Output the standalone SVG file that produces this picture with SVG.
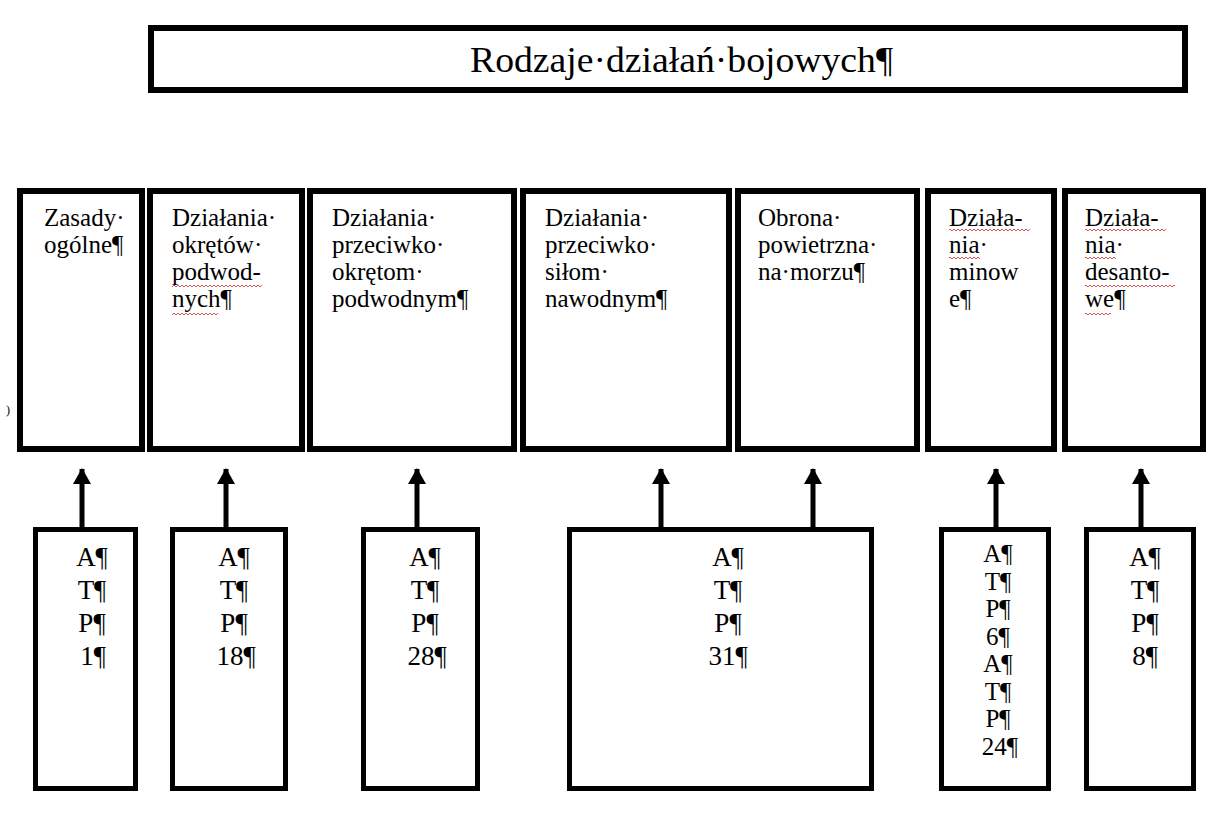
<svg xmlns="http://www.w3.org/2000/svg" width="1208" height="814" viewBox="0 0 1208 814">
<style>
.box{fill:#fff;stroke:#000;stroke-width:6}
.bbox{fill:#fff;stroke:#000;stroke-width:5}
.t{font-family:"Liberation Serif","Times New Roman",serif;font-size:25px;fill:#000}
.b{font-family:"Liberation Serif","Times New Roman",serif;font-size:27px;fill:#000;text-anchor:middle}
.e{font-size:25px}
.title{font-family:"Liberation Serif","Times New Roman",serif;font-size:35px;fill:#000}
.arr{stroke:#000;stroke-width:5;fill:none}
.sq{fill:url(#squig)}
</style>
<defs>
<pattern id="squig" patternUnits="userSpaceOnUse" x="0" y="0" width="4" height="4">
<polyline points="0,3 2,1 4,3" fill="none" stroke="#d04040" stroke-width="0.9"/>
</pattern>
<marker id="ah" markerUnits="userSpaceOnUse" markerWidth="16" markerHeight="18" refX="15" refY="9" orient="auto" viewBox="0 0 16 18">
<polygon points="0,0 16,9 0,18" fill="#000"/>
</marker>
</defs>
<rect width="1208" height="814" fill="#fff"/>

<g id="title">
<rect class="box" x="151" y="28" width="1034" height="62"/>
<text class="title" x="470" y="72" textLength="423" lengthAdjust="spacingAndGlyphs">Rodzaje·działań·bojowych¶</text>
</g>

<g id="n1">
<rect class="box" x="20" y="191" width="122" height="258"/>
<text class="t" x="44" y="226">Zasady·</text>
<text class="t" x="44" y="253">ogólne¶</text>
</g>
<g id="n2">
<rect class="box" x="150" y="191" width="152" height="258"/>
<text class="t" x="172" y="226">Działania·</text>
<text class="t" x="172" y="253">okrętów·</text>
<text class="t" x="172" y="280">podwod-</text>
<text class="t" x="172" y="307">nych¶</text>
<rect class="sq" x="172" y="284" width="90" height="4"/>
<rect class="sq" x="172" y="311" width="46" height="4"/>
</g>
<g id="n3">
<rect class="box" x="310" y="191" width="204" height="258"/>
<text class="t" x="332" y="226">Działania·</text>
<text class="t" x="332" y="253">przeciwko·</text>
<text class="t" x="332" y="280">okrętom·</text>
<text class="t" x="332" y="307">podwodnym¶</text>
</g>
<g id="n4">
<rect class="box" x="523" y="191" width="206" height="258"/>
<text class="t" x="545" y="226">Działania·</text>
<text class="t" x="545" y="253">przeciwko·</text>
<text class="t" x="545" y="280">siłom·</text>
<text class="t" x="545" y="307">nawodnym¶</text>
</g>
<g id="n5">
<rect class="box" x="738" y="191" width="179" height="258"/>
<text class="t" x="758" y="226">Obrona·</text>
<text class="t" x="758" y="253">powietrzna·</text>
<text class="t" x="758" y="280">na·morzu¶</text>
</g>
<g id="n6">
<rect class="box" x="928" y="191" width="126" height="258"/>
<text class="t" x="949" y="226">Działa-</text>
<text class="t" x="949" y="253">nia·</text>
<text class="t" x="949" y="280">minow</text>
<text class="t" x="949" y="307">e¶</text>
<rect class="sq" x="949" y="229" width="81" height="4"/>
<rect class="sq" x="949" y="256" width="31" height="4"/>
</g>
<g id="n7">
<rect class="box" x="1065" y="191" width="138" height="258"/>
<text class="t" x="1085" y="226">Działa-</text>
<text class="t" x="1085" y="253">nia·</text>
<text class="t" x="1085" y="280">desanto-</text>
<text class="t" x="1085" y="307">we¶</text>
<rect class="sq" x="1085" y="229" width="81" height="4"/>
<rect class="sq" x="1085" y="256" width="31" height="4"/>
<rect class="sq" x="1085" y="284" width="90" height="4"/>
<rect class="sq" x="1085" y="311" width="26" height="4"/>
</g>

<text x="6" y="414" font-family="Liberation Serif, serif" font-size="12">)</text>

<g id="s1">
<rect class="bbox" x="35.5" y="529.5" width="100" height="259"/>
<text class="b" x="92" y="566">A¶</text>
<text class="b" x="92" y="599">T¶</text>
<text class="b" x="92" y="632">P¶</text>
<text class="b" x="93" y="665">1¶</text>
</g>
<g id="s2">
<rect class="bbox" x="172.5" y="529.5" width="113" height="259"/>
<text class="b" x="234" y="566">A¶</text>
<text class="b" x="234" y="599">T¶</text>
<text class="b" x="234" y="632">P¶</text>
<text class="b" x="236" y="665">18¶</text>
</g>
<g id="s3">
<rect class="bbox" x="363.5" y="529.5" width="114" height="259"/>
<text class="b" x="425" y="566">A¶</text>
<text class="b" x="425" y="599">T¶</text>
<text class="b" x="425" y="632">P¶</text>
<text class="b" x="427" y="665">28¶</text>
</g>
<g id="s4">
<rect class="bbox" x="569.5" y="529.5" width="302" height="259"/>
<text class="b" x="728" y="566">A¶</text>
<text class="b" x="728" y="599">T¶</text>
<text class="b" x="728" y="632">P¶</text>
<text class="b" x="728" y="665">31¶</text>
</g>
<g id="s5">
<rect class="bbox" x="941.5" y="529.5" width="107" height="259"/>
<text class="b e" x="998" y="562">A¶</text>
<text class="b e" x="998" y="589.5">T¶</text>
<text class="b e" x="998" y="617">P¶</text>
<text class="b e" x="998" y="644.5">6¶</text>
<text class="b e" x="998" y="672">A¶</text>
<text class="b e" x="998" y="699.5">T¶</text>
<text class="b e" x="998" y="727">P¶</text>
<text class="b e" x="1000" y="754.5">24¶</text>
</g>
<g id="s6">
<rect class="bbox" x="1086.5" y="529.5" width="107" height="259"/>
<text class="b" x="1145" y="566">A¶</text>
<text class="b" x="1145" y="599">T¶</text>
<text class="b" x="1145" y="632">P¶</text>
<text class="b" x="1145" y="665">8¶</text>
</g>

<g id="connectors">
<line class="arr" x1="82" y1="528" x2="82" y2="469" marker-end="url(#ah)"/>
<line class="arr" x1="226" y1="528" x2="226" y2="469" marker-end="url(#ah)"/>
<line class="arr" x1="417" y1="528" x2="417" y2="469" marker-end="url(#ah)"/>
<line class="arr" x1="661" y1="528" x2="661" y2="469" marker-end="url(#ah)"/>
<line class="arr" x1="813" y1="528" x2="813" y2="469" marker-end="url(#ah)"/>
<line class="arr" x1="996" y1="528" x2="996" y2="469" marker-end="url(#ah)"/>
<line class="arr" x1="1141" y1="528" x2="1141" y2="469" marker-end="url(#ah)"/>
</g>
</svg>
